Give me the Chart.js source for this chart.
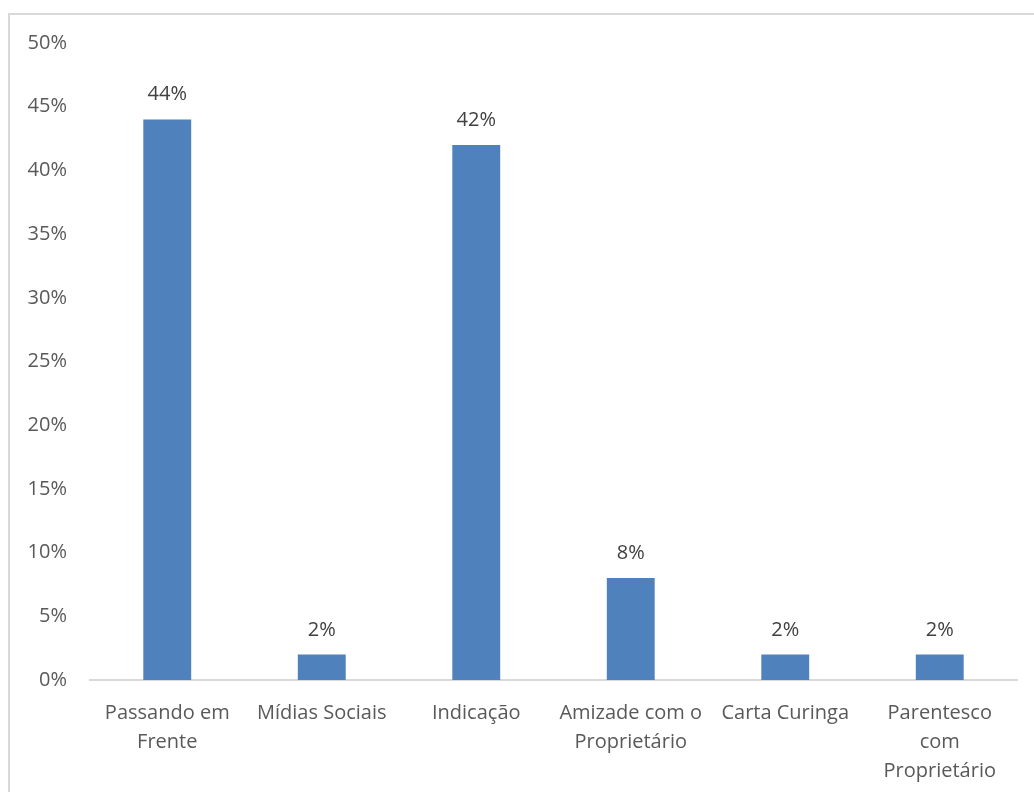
<!DOCTYPE html>
<html>
<head>
<meta charset="utf-8">
<script src="https://cdn.jsdelivr.net/npm/chart.js@4"></script>
<style>
  html, body { margin: 0; padding: 0; overflow: hidden; background: #fff; }
  #frame { position: absolute; left: 8px; top: 13px; width: 1100px; height: 900px; border: 2px solid #d9d9d9; }
  #wrap { position: absolute; left: 0; top: 0; width: 1034px; height: 792px; }
</style>
</head>
<body>
<div id="frame"></div>
<div id="wrap"><canvas id="chart"></canvas></div>
<script>
const categories = [
  ["Passando em", "Frente"],
  "Mídias Sociais",
  "Indicação",
  ["Amizade com o", "Proprietário"],
  "Carta Curinga",
  ["Parentesco", "com", "Proprietário"]
];
const values = [0.44, 0.02, 0.42, 0.08, 0.02, 0.02];
const yTicks = [0, 0.05, 0.10, 0.15, 0.20, 0.25, 0.30, 0.35, 0.40, 0.45, 0.50];

const FONT = "'Open Sans', 'Noto Sans', sans-serif";

function pct(v){
  return Math.round(v * 100) + "%";
}

// draws the value above each bar
const barLabels = {
  id: "barLabels",
  afterDatasetsDraw(chart){
    const ctx = chart.ctx;
    const meta = chart.getDatasetMeta(0);
    ctx.save();
    ctx.font = "20px " + FONT;
    ctx.fillStyle = "#404040";
    ctx.textAlign = "center";
    ctx.textBaseline = "alphabetic";
    meta.data.forEach((bar, i) => {
      ctx.fillText(pct(values[i]), bar.x, bar.y - 19);
    });
    ctx.restore();
  }
};

const ctx = document.getElementById("chart").getContext("2d");
new Chart(ctx, {
  type: "bar",
  data: {
    labels: categories,
    datasets: [{
      data: values,
      backgroundColor: "#4f81bd",
      borderColor: "#4f81bd",
      borderWidth: 0,
      categoryPercentage: 1,
      barPercentage: 0.31
    }]
  },
  options: {
    responsive: true,
    maintainAspectRatio: false,
    animation: false,
    layout: { padding: { top: 43, right: 17, left: 0, bottom: 0 } },
    plugins: {
      legend: { display: false },
      tooltip: { enabled: false }
    },
    scales: {
      x: {
        grid: { display: false, drawTicks: false },
        border: { display: true, color: "#d9d9d9", width: 2 },
        ticks: {
          color: "#595959",
          font: { family: FONT, size: 20, lineHeight: 1.45 },
          padding: 19,
          maxRotation: 0,
          autoSkip: false
        },
        afterFit(scale){ scale.height = 112; }
      },
      y: {
        min: 0,
        max: 0.5,
        afterBuildTicks(scale){ scale.ticks = yTicks.map(v => ({ value: v })); },
        grid: { display: false, drawTicks: false },
        border: { display: false },
        ticks: {
          color: "#595959",
          font: { family: FONT, size: 20 },
          padding: 23,
          callback: v => pct(v)
        },
        afterFit(scale){ scale.width = 90; }
      }
    }
  },
  plugins: [barLabels]
});
</script>
</body>
</html>
